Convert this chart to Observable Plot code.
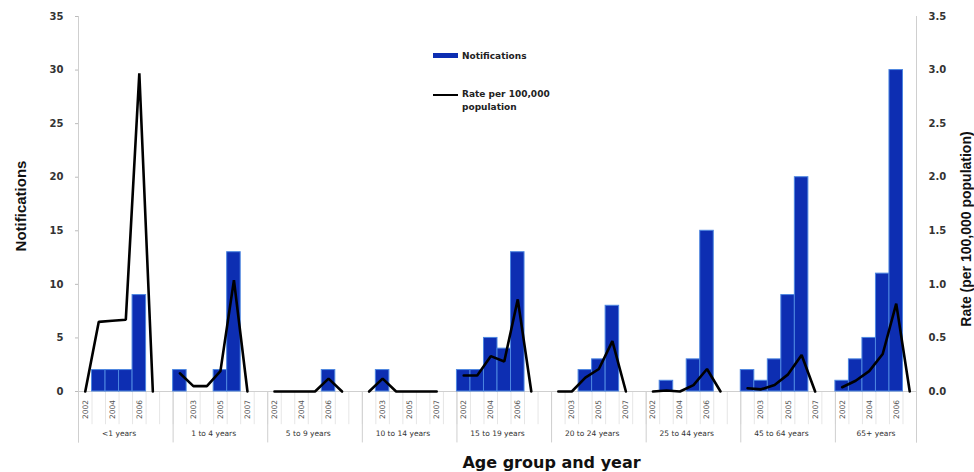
<!DOCTYPE html>
<html>
<head>
<meta charset="utf-8">
<script src="https://cdn.jsdelivr.net/npm/d3@7"></script>
<script src="https://cdn.jsdelivr.net/npm/@observablehq/plot@0.6"></script>
<style>
  html, body { margin: 0; padding: 0; background: #fff; }
  #chart svg { display: block; }
  .ax text { font-family: "DejaVu Sans", Verdana, sans-serif; font-weight: bold; font-size: 10px; }
</style>
</head>
<body>
<div id="chart"></div>
<script>
const groups = ["<1 years", "1 to 4 years", "5 to 9 years", "10 to 14 years", "15 to 19 years",
                "20 to 24 years", "25 to 44 years", "45 to 64 years", "65+ years"];
const years = [2002, 2003, 2004, 2005, 2006, 2007];
// notifications per group, 2002..2007
const notifications = [
  [0, 2, 2, 2, 9, 0],
  [2, 0, 0, 2, 13, 0],
  [0, 0, 0, 0, 2, 0],
  [0, 2, 0, 0, 0, 0],
  [2, 2, 5, 4, 13, 0],
  [0, 0, 2, 3, 8, 0],
  [0, 1, 0, 3, 15, 0],
  [2, 1, 3, 9, 20, 0],
  [1, 3, 5, 11, 30, 0]
];
// rate per 100,000 population, 2002..2007
const rates = [
  [0, 0.65, 0.66, 0.67, 2.97, 0],
  [0.17, 0.05, 0.05, 0.19, 1.04, 0],
  [0, 0, 0, 0, 0.12, 0],
  [0, 0.12, 0, 0, 0, 0],
  [0.15, 0.15, 0.33, 0.28, 0.86, 0],
  [0, 0, 0.13, 0.21, 0.47, 0],
  [0, 0.01, 0, 0.06, 0.21, 0],
  [0.03, 0.02, 0.06, 0.16, 0.34, 0],
  [0.04, 0.1, 0.19, 0.35, 0.82, 0]
];
const countTicks = [0, 5, 10, 15, 20, 25, 30, 35];
const rateTicks = [0, 0.5, 1.0, 1.5, 2.0, 2.5, 3.0, 3.5];
const rateToCount = 10; // right axis 3.5 aligns with left axis 35

// build slot table: 6 years per group, one empty slot between groups
const rows = [];
const groupStarts = [];
let idx = 0;
groups.forEach((g, gi) => {
  groupStarts.push({group: g, start: idx});
  years.forEach((y, yi) => {
    rows.push({group: g, year: y, n: notifications[gi][yi], rate: rates[gi][yi], i: idx});
    idx++;
  });
  if (gi < groups.length - 1) idx++;
});
const nSlots = idx;
const slotEdges = d3.range(0, nSlots + 1);
const groupEdges = groupStarts.map(d => d.start).concat([nSlots]);

const narrow = "Liberation Sans Narrow, Arial Narrow, Liberation Sans, sans-serif";

const plot = Plot.plot({
  width: 974,
  height: 472,
  marginLeft: 78,
  marginRight: 58,
  marginTop: 16,
  marginBottom: 81,
  x: {domain: [0, nSlots], axis: null},
  y: {domain: [0, 35], axis: null},
  style: {fontFamily: "DejaVu Sans, Verdana, sans-serif", background: "#fff", overflow: "visible"},
  marks: [
    // slot separators in the year row
    Plot.ruleX(slotEdges, {x: d => d, y1: 0, y2: -3.1, stroke: "#e6e6e6", strokeWidth: 1}),
    // group separators
    Plot.ruleX(groupEdges, {x: d => d, y1: -4.8, y2: 0, stroke: "#cfcfcf", strokeWidth: 1}),
    // axis lines
    Plot.ruleX([0, nSlots], {x: d => d, y1: -4.8, y2: 35, stroke: "#cfcfcf", strokeWidth: 1}),
    Plot.ruleY([0], {stroke: "#cfcfcf", strokeWidth: 1}),
    // bars
    Plot.rectY(rows.filter(d => d.n > 0), {
      x1: "i", x2: d => d.i + 1, y: "n",
      fill: "#0d2eb2", stroke: "#4d86e0", strokeWidth: 1
    }),
    // rate line
    Plot.line(rows, {
      x: d => d.i + 0.5, y: d => d.rate * rateToCount, z: "group",
      stroke: "#000", strokeWidth: 2.6, strokeLinejoin: "miter"
    }),
    // left axis
    Plot.axisY(countTicks, {
      anchor: "left", tickSize: 3, tickPadding: 12, stroke: "#bbb", fill: "#333",
      label: null, className: "ax"
    }),
    // right axis
    Plot.axisY(rateTicks.map(r => r * rateToCount), {
      anchor: "right", tickSize: 0, tickPadding: 12, fill: "#333",
      tickFormat: d => (d / rateToCount).toFixed(1), label: null, className: "ax"
    }),
    // year labels (every second slot)
    Plot.text(rows.filter(d => d.i % 2 === 0), {
      x: d => d.i + 0.5, y: 0, dy: 18, text: d => String(d.year), rotate: -90,
      fontSize: 7.5, fill: "#555", textAnchor: "middle"
    }),
    // group labels
    Plot.text(groupStarts, {
      x: d => d.start + 3, y: 0, dy: 42, text: "group",
      fontSize: 7.5, fill: "#333", textAnchor: "middle"
    }),
    // x title
    Plot.text(["Age group and year"], {
      frameAnchor: "bottom", dx: 54, dy: 71, text: d => d, lineAnchor: "middle",
      fontSize: 16, fontWeight: "bold", fill: "#111", textAnchor: "middle"
    }),
    // left title
    Plot.text(["Notifications"], {
      frameAnchor: "left", dx: -57, dy: 2, rotate: -90, text: d => d,
      textAnchor: "middle", lineAnchor: "middle",
      fontFamily: narrow, fontSize: 15, fontWeight: "bold", fill: "#111"
    }),
    // right title
    Plot.text(["Rate (per 100,000 population)"], {
      frameAnchor: "right", dx: 50, dy: 25, rotate: -90, text: d => d,
      textAnchor: "middle", lineAnchor: "middle",
      fontFamily: narrow, fontSize: 14, fontWeight: "bold", fill: "#111"
    })
  ]
});

// legend inside the plot area
const svg = d3.select(plot);
const lg = svg.append("g").attr("font-family", "DejaVu Sans, Verdana, sans-serif")
  .attr("font-size", 9).attr("font-weight", "bold").attr("fill", "#222")
  .attr("text-anchor", "start");
lg.append("rect").attr("x", 433).attr("y", 53).attr("width", 25).attr("height", 5).attr("fill", "#0d2eb2");
lg.append("text").attr("x", 462).attr("y", 59).text("Notifications");
lg.append("line").attr("x1", 433).attr("x2", 458).attr("y1", 95).attr("y2", 95)
  .attr("stroke", "#000").attr("stroke-width", 2);
lg.append("text").attr("x", 462).attr("y", 97).text("Rate per 100,000");
lg.append("text").attr("x", 462).attr("y", 110).text("population");

document.getElementById("chart").appendChild(plot);
</script>
</body>
</html>
